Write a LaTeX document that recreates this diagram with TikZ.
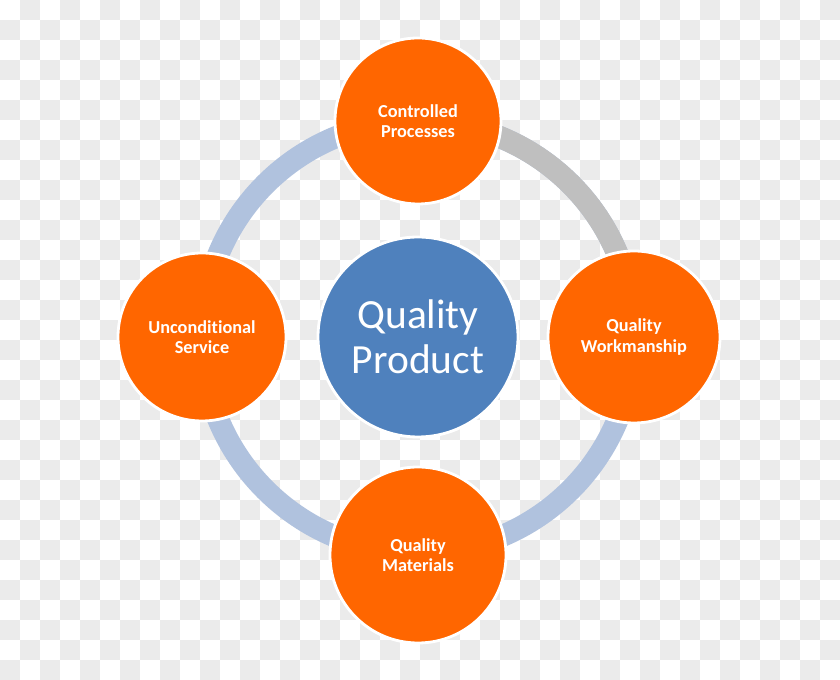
\documentclass[tikz,border=0pt]{standalone}
\usepackage{fontspec}
\setmainfont[Ligatures={NoCommon}]{Carlito}
\definecolor{checkgray}{HTML}{EBEBEB}
\definecolor{ringblue}{HTML}{B0C2DE}
\definecolor{ringgray}{HTML}{BFBFBF}
\definecolor{qorange}{HTML}{FF6600}
\definecolor{qblue}{HTML}{4F81BD}
\begin{document}
\begin{tikzpicture}[
    ring/.style={line width=0.55cm},
    item/.style={circle, fill=qorange, draw=white, line width=2pt, inner sep=0pt,
      align=center, text=white, font=\bfseries\fontsize{13}{14.5}\selectfont},
    hub/.style={circle, fill=qblue, draw=white, line width=2pt, inner sep=0pt,
      align=center, text=white, font=\fontsize{29.5}{32}\selectfont}
  ]
  \useasboundingbox (0,0) rectangle (21,17);
  % checkered background
  \fill[white] (0,0) rectangle (21,17);
  \foreach \i in {0,...,41}{
    \foreach \j in {0,...,33}{
      \pgfmathtruncatemacro\k{mod(\i+\j,2)}
      \ifnum\k=1 \fill[checkgray] (\i*0.5,17-\j*0.5) rectangle ++(0.5,-0.5); \fi
    }
  }
  \begin{scope}[shift={(10.45,8.575)}]
    \coordinate (c) at (0,0);
    \draw[ring, ringblue] (c) circle (5.4);
    \path
      (90:5.4) coordinate (t)
      (0:5.4) coordinate (r)
      (270:5.4) coordinate (b)
      (180:5.4) coordinate (l);
    \draw[ring, ringgray] (t) arc[start angle=90, end angle=0, radius=5.4];
    \node[hub, minimum size=5cm] (hub) at (c) {Quality\\Product};
    \node[item, minimum size=4.15cm] (cp) at (t) {Controlled\\Processes};
    \node[item, minimum size=4.3cm] (qw) at (r) {Quality\\Workmanship};
    \node[item, minimum size=4.4cm] (qm) at ([yshift=-0.05cm]b) {Quality\\Materials};
    \node[item, minimum size=4.2cm] (us) at (l) {Unconditional\\Service};
  \end{scope}
\end{tikzpicture}
\end{document}
